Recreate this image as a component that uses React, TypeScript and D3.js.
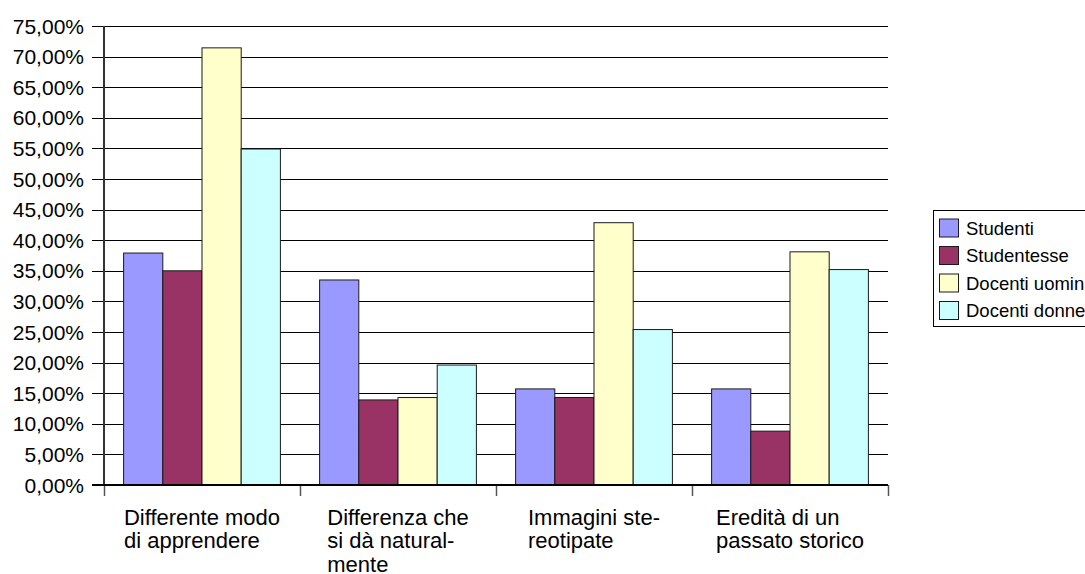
import React, { useEffect, useRef } from "react";
import * as d3 from "d3";

// Categories (x-axis groups), each label split into its printed lines
const categories = [
  "Differente modo di apprendere",
  "Differenza che si dà naturalmente",
  "Immagini stereotipate",
  "Eredità di un passato storico",
];
const categoryLines = [
  ["Differente modo", "di apprendere"],
  ["Differenza che", "si dà natural-", "mente"],
  ["Immagini ste-", "reotipate"],
  ["Eredità di un", "passato storico"],
];

// Series names and values (percent)
const seriesNames = ["Studenti", "Studentesse", "Docenti uomini", "Docenti donne"];
const studenti = [37.9, 33.5, 15.7, 15.7];
const studentesse = [35.0, 13.9, 14.3, 8.8];
const docentiUomini = [71.43, 14.29, 42.86, 38.1];
const docentiDonne = [54.9, 19.6, 25.4, 35.2];
const seriesValues = [studenti, studentesse, docentiUomini, docentiDonne];
const seriesColors = ["#9999FF", "#993366", "#FFFFCC", "#CCFFFF"];

// Y-axis ticks
const yTicks = [0, 5, 10, 15, 20, 25, 30, 35, 40, 45, 50, 55, 60, 65, 70, 75];

const W = 1085;
const H = 574;
const FONT = "'Liberation Sans', Arial, Helvetica, sans-serif";

export default function App() {
  const ref = useRef<SVGSVGElement | null>(null);

  useEffect(() => {
    const svg = d3.select(ref.current);
    svg.selectAll("*").remove();

    const left = 104;
    const right = 888;
    const top = 26;
    const bottom = 485;

    const y = d3.scaleLinear().domain([0, 75]).range([bottom, top]);
    const x0 = d3.scaleBand<string>().domain(categories).range([left, right]).paddingInner(0).paddingOuter(0);
    const x1 = d3
      .scaleBand<string>()
      .domain(seriesNames)
      .range([0, x0.bandwidth()])
      .paddingInner(0)
      .paddingOuter(0.5);

    // gridlines with left tick stubs
    svg
      .append("g")
      .selectAll("line")
      .data(yTicks.filter((t) => t > 0))
      .join("line")
      .attr("x1", left - 12)
      .attr("x2", right)
      .attr("y1", (d) => Math.round(y(d)) + 0.5)
      .attr("y2", (d) => Math.round(y(d)) + 0.5)
      .attr("stroke", "#000")
      .attr("stroke-width", 1);

    // y tick labels
    svg
      .append("g")
      .selectAll("text")
      .data(yTicks)
      .join("text")
      .attr("x", 84)
      .attr("y", (d) => y(d))
      .attr("dy", "0.36em")
      .attr("text-anchor", "end")
      .attr("font-family", FONT)
      .attr("font-size", 21)
      .attr("fill", "#000")
      .text((d) => d3.format(".2f")(d).replace(".", ",") + "%");

    // bars
    const groups = svg
      .append("g")
      .selectAll("g")
      .data(categories)
      .join("g")
      .attr("transform", (c) => `translate(${x0(c)},0)`);

    groups
      .selectAll("rect")
      .data((_, i) => seriesNames.map((s, k) => ({ s, k, v: seriesValues[k][i] })))
      .join("rect")
      .attr("x", (d) => (x1(d.s) as number))
      .attr("y", (d) => y(d.v))
      .attr("width", x1.bandwidth())
      .attr("height", (d) => bottom - y(d.v))
      .attr("fill", (d) => seriesColors[d.k])
      .attr("stroke", "#1a1a1a")
      .attr("stroke-width", 1);

    // y axis line
    svg
      .append("line")
      .attr("x1", left)
      .attr("x2", left)
      .attr("y1", top)
      .attr("y2", bottom)
      .attr("stroke", "#333")
      .attr("stroke-width", 2);

    // bottom tick stubs at category boundaries
    const bounds = categories.map((c) => x0(c) as number).concat([right]);
    svg
      .append("g")
      .selectAll("line")
      .data(bounds)
      .join("line")
      .attr("x1", (d) => Math.round(d) + 0.5)
      .attr("x2", (d) => Math.round(d) + 0.5)
      .attr("y1", bottom)
      .attr("y2", bottom + 11)
      .attr("stroke", "#555")
      .attr("stroke-width", 1.5);

    // x axis line
    svg
      .append("line")
      .attr("x1", left - 12)
      .attr("x2", right)
      .attr("y1", bottom)
      .attr("y2", bottom)
      .attr("stroke", "#000")
      .attr("stroke-width", 2);

    // category labels: block centred under each group, lines left-aligned
    categories.forEach((c, i) => {
      const g = svg.append("g");
      const texts = categoryLines[i].map((line, j) =>
        g
          .append("text")
          .attr("y", 524.5 + j * 23.5)
          .attr("font-family", FONT)
          .attr("font-size", 22)
          .attr("fill", "#000")
          .text(line)
      );
      const maxW = d3.max(texts, (t) => (t.node() as SVGTextElement).getComputedTextLength()) || 0;
      const cx = (x0(c) as number) + x0.bandwidth() / 2;
      texts.forEach((t) => t.attr("x", cx - maxW / 2));
    });

    // legend
    const lg = svg.append("g");
    lg.append("rect")
      .attr("x", 933.5)
      .attr("y", 210.5)
      .attr("width", 200)
      .attr("height", 116)
      .attr("fill", "#fff")
      .attr("stroke", "#000")
      .attr("stroke-width", 1);
    seriesNames.forEach((s, k) => {
      const cy = 228 + k * 27.5;
      lg.append("rect")
        .attr("x", 939.5)
        .attr("y", cy - 9)
        .attr("width", 19)
        .attr("height", 18)
        .attr("fill", seriesColors[k])
        .attr("stroke", "#1a1a1a")
        .attr("stroke-width", 1);
      lg.append("text")
        .attr("x", 966)
        .attr("y", cy)
        .attr("dy", "0.36em")
        .attr("font-family", FONT)
        .attr("font-size", 18.5)
        .attr("fill", "#000")
        .text(s);
    });
  }, []);

  return (
    <svg
      ref={ref}
      width={W}
      height={H}
      style={{ position: "absolute", left: 0, top: 0, background: "#fff" }}
    />
  );
}
